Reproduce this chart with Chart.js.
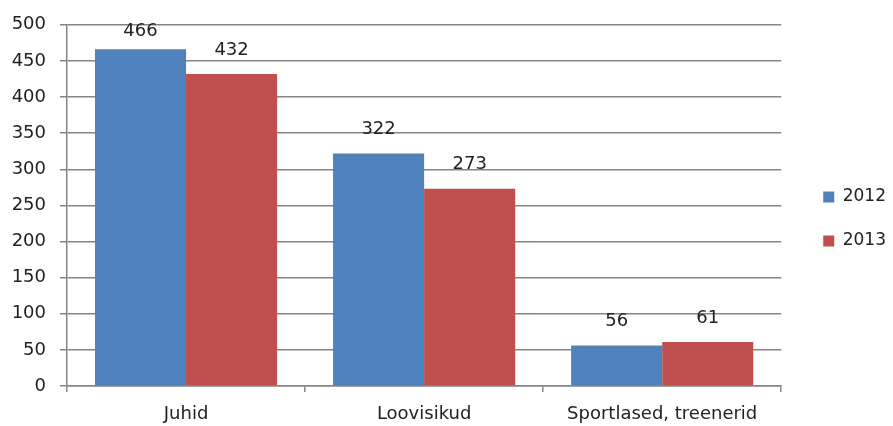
<!DOCTYPE html>
<html><head><meta charset="utf-8">
<script src="https://cdn.jsdelivr.net/npm/chart.js@4/dist/chart.umd.min.js"></script>
<style>html,body{margin:0;padding:0;background:#fff}#wrap{width:893px;height:426px}</style>
</head><body><div id="wrap"><canvas id="c" width="893" height="426"></canvas></div>
<script>
const categories = ["Juhid", "Loovisikud", "Sportlased, treenerid"];
const series2012 = [466, 322, 56];
const series2013 = [432, 273, 61];
const seriesNames = ["2012", "2013"];
const yTicks = [0, 50, 100, 150, 200, 250, 300, 350, 400, 450, 500];

const FONT = "'DejaVu Sans', sans-serif";
const FS = 18;
const GRID = "#868686";

const valueLabels = {
  id: "valueLabels",
  afterLayout(chart) {
    // nudge legend right, leaving a gap between plot area and legend
    if (chart.legend) { chart.legend.left += 15; chart.legend.right += 15; }
  },
  afterDatasetsDraw(chart) {
    const ctx = chart.ctx;
    ctx.save();
    ctx.font = FS + "px " + FONT;
    ctx.fillStyle = "#222";
    ctx.textAlign = "center";
    ctx.textBaseline = "middle";
    chart.data.datasets.forEach((ds, i) => {
      chart.getDatasetMeta(i).data.forEach((bar, j) => {
        const y = Math.max(bar.y - 24, chart.chartArea.top + 7);
        ctx.fillText(String(ds.data[j]), bar.x, y);
      });
    });
    ctx.restore();
  }
};

new Chart(document.getElementById("c"), {
  type: "bar",
  data: {
    labels: categories,
    datasets: [
      { label: seriesNames[0], data: series2012, backgroundColor: "#4F81BD" },
      { label: seriesNames[1], data: series2013, backgroundColor: "#C0504D" }
    ]
  },
  options: {
    responsive: false,
    animation: false,
    devicePixelRatio: 1,
    layout: { padding: { left: 8, top: 14, right: 12, bottom: 2 } },
    datasets: { bar: { barPercentage: 1, categoryPercentage: 0.765 } },
    plugins: {
      legend: {
        position: "right",
        align: "center",
        labels: {
          font: { family: FONT, size: 17 },
          color: "#222",
          boxWidth: 11,
          boxHeight: 11,
          padding: 27
        }
      },
      tooltip: { enabled: false }
    },
    scales: {
      y: {
        min: 0, max: 500,
        afterBuildTicks(scale) { scale.ticks = yTicks.map(v => ({ value: v })); },
        afterFit(scale) { scale.width = 59; },
        ticks: { font: { family: FONT, size: FS }, color: "#222", padding: 14 },
        grid: { color: GRID, lineWidth: 1.5, tickLength: 7, drawTicks: true },
        border: { color: GRID, width: 1.5 }
      },
      x: {
        afterFit(scale) { scale.height = 38; },
        ticks: { font: { family: FONT, size: FS }, color: "#222", padding: 12 },
        grid: { offset: true, drawOnChartArea: false, color: GRID, lineWidth: 1.5, tickLength: 6 },
        border: { color: GRID, width: 1.5 }
      }
    }
  },
  plugins: [valueLabels]
});
</script>
</body></html>
